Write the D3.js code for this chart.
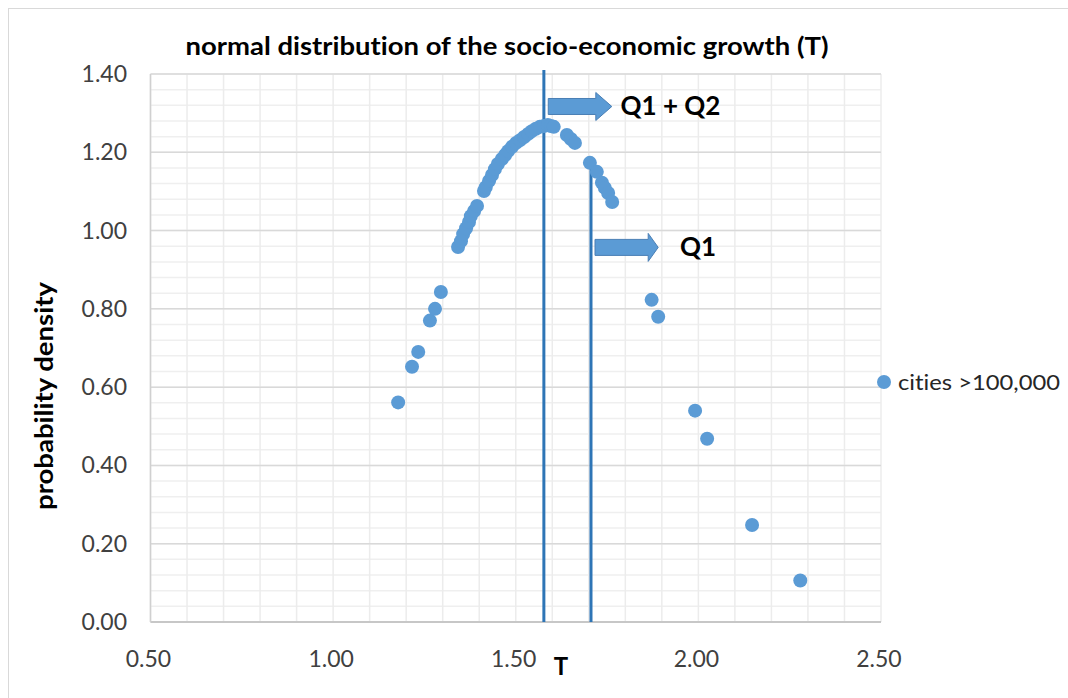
<!DOCTYPE html>
<html>
<head>
<meta charset="utf-8">
<script src="https://cdn.jsdelivr.net/npm/d3@7"></script>
<style>
    body { margin: 0; background: #fff; }
    text { font-family: Lato, "Open Sans", sans-serif; font-variant-ligatures: none; }
</style>
</head>
<body>
<svg class="scatter"></svg>
<script>
// values
var tValues = [
    1.178, 1.216, 1.233, 1.265, 1.279, 1.295,
    1.342, 1.350, 1.356, 1.364, 1.372, 1.377, 1.386, 1.394,
    1.413, 1.418, 1.427, 1.435, 1.443, 1.451, 1.462, 1.471, 1.479, 1.490,
    1.501, 1.512, 1.523, 1.534, 1.544, 1.555, 1.566, 1.577, 1.588, 1.596, 1.604,
    1.640, 1.651, 1.662,
    1.703, 1.722, 1.736, 1.744, 1.753, 1.764,
    1.872, 1.890, 1.991, 2.024, 2.147, 2.279
];
var densityValues = [
    0.561, 0.652, 0.690, 0.770, 0.800, 0.843,
    0.958, 0.973, 0.991, 1.006, 1.022, 1.037, 1.050, 1.063,
    1.101, 1.111, 1.127, 1.142, 1.157, 1.170, 1.183, 1.193, 1.203, 1.214,
    1.224, 1.231, 1.239, 1.247, 1.254, 1.260, 1.265, 1.267, 1.270, 1.267, 1.265,
    1.244, 1.234, 1.224,
    1.173, 1.150, 1.122, 1.109, 1.096, 1.073,
    0.823, 0.780, 0.540, 0.468, 0.248, 0.106
];

var xTicks = [0.5, 1.0, 1.5, 2.0, 2.5];
var yTicks = [0, 0.2, 0.4, 0.6, 0.8, 1.0, 1.2, 1.4];

// vertical marker lines: [T, top value]
var markerLines = [
    { t: 1.577, top: 1.41 },
    { t: 1.706, top: 1.163 }
];

// arrow annotations in data units
var arrows = [
    { label: "Q1 + Q2", x0: 1.589, x1: 1.763, y: 1.317, head: 16, textT: 1.787 },
    { label: "Q1", x0: 1.717, x1: 1.890, y: 0.957, head: 10, textT: 1.950 }
];

var seriesName = "cities >100,000";

var data = tValues.map(function (t, i) {
    return { t: t, p: densityValues[i] };
});

var svgWidth = 1068,
    svgHeight = 698;
var plot = { left: 150.5, right: 881, top: 74, bottom: 622 };

var svg = d3.select('.scatter')
    .attr('width', svgWidth)
    .attr('height', svgHeight);

// chart frame
svg.append('rect')
    .attr('x', 8.5)
    .attr('y', 8.5)
    .attr('width', 1080)
    .attr('height', 720)
    .attr('fill', '#fff')
    .attr('stroke', '#d9d9d9');

var x = d3.scaleLinear().domain([0.5, 2.5]).range([plot.left, plot.right]);
var y = d3.scaleLinear().domain([0, 1.4]).range([plot.bottom, plot.top]);

// minor gridlines
svg.append('g')
    .selectAll('line')
    .data(d3.range(0, 1.4001, 0.04))
    .enter()
    .append('line')
    .attr('x1', plot.left)
    .attr('x2', plot.right)
    .attr('y1', function (d) { return y(d); })
    .attr('y2', function (d) { return y(d); })
    .attr('stroke', '#efefef')
    .attr('stroke-width', 1.5);

svg.append('g')
    .selectAll('line')
    .data(d3.range(0.5, 2.5001, 0.1))
    .enter()
    .append('line')
    .attr('x1', function (d) { return x(d); })
    .attr('x2', function (d) { return x(d); })
    .attr('y1', plot.top)
    .attr('y2', plot.bottom)
    .attr('stroke', '#ececec')
    .attr('stroke-width', 1.5);

// major horizontal gridlines
svg.append('g')
    .selectAll('line')
    .data(yTicks)
    .enter()
    .append('line')
    .attr('x1', plot.left)
    .attr('x2', plot.right)
    .attr('y1', function (d) { return y(d); })
    .attr('y2', function (d) { return y(d); })
    .attr('stroke', '#d9d9d9')
    .attr('stroke-width', 1.5);

// axis lines
svg.append('line')
    .attr('x1', plot.left).attr('x2', plot.right)
    .attr('y1', plot.bottom).attr('y2', plot.bottom)
    .attr('stroke', '#bfbfbf')
    .attr('stroke-width', 1.5);
svg.append('line')
    .attr('x1', plot.left).attr('x2', plot.left)
    .attr('y1', plot.top).attr('y2', plot.bottom)
    .attr('stroke', '#d0d0d0')
    .attr('stroke-width', 1.5);

// tick labels
svg.append('g')
    .selectAll('text')
    .data(yTicks)
    .enter()
    .append('text')
    .attr('x', 127)
    .attr('y', function (d) { return y(d) + 8; })
    .attr('text-anchor', 'end')
    .attr('font-size', 23)
    .attr('fill', '#404040')
    .text(function (d) { return d.toFixed(2); });

svg.append('g')
    .selectAll('text')
    .data(xTicks)
    .enter()
    .append('text')
    .attr('x', function (d) { return x(d) - 2; })
    .attr('y', 667)
    .attr('text-anchor', 'middle')
    .attr('font-size', 23)
    .attr('fill', '#404040')
    .text(function (d) { return d.toFixed(2); });

// marker lines
svg.append('g')
    .selectAll('line')
    .data(markerLines)
    .enter()
    .append('line')
    .attr('x1', function (d) { return x(d.t); })
    .attr('x2', function (d) { return x(d.t); })
    .attr('y1', function (d) { return y(d.top); })
    .attr('y2', y(0))
    .attr('stroke', '#2e75b6')
    .attr('stroke-width', 3);

// points
svg.append('g')
    .selectAll('circle')
    .data(data)
    .enter()
    .append('circle')
    .attr('cx', function (d) { return x(d.t); })
    .attr('cy', function (d) { return y(d.p); })
    .attr('r', 7)
    .attr('fill', '#5b9bd5');

// arrows
var arrowG = svg.append('g')
    .selectAll('g')
    .data(arrows)
    .enter()
    .append('g');

arrowG.append('path')
    .attr('d', function (d) {
        var a = x(d.x0), b = x(d.x1), c = y(d.y), h = b - d.head;
        return 'M' + a + ',' + (c - 8) + 'L' + h + ',' + (c - 8) + 'L' + h + ',' + (c - 14) +
            'L' + b + ',' + c + 'L' + h + ',' + (c + 14) + 'L' + h + ',' + (c + 8) +
            'L' + a + ',' + (c + 8) + 'Z';
    })
    .attr('fill', '#5b9bd5')
    .attr('stroke', '#4a7fb5')
    .attr('stroke-width', 1);

arrowG.append('text')
    .attr('x', function (d) { return x(d.textT); })
    .attr('y', function (d) { return y(d.y) + 9; })
    .attr('font-size', 26)
    .attr('font-weight', 'bold')
    .attr('fill', '#000')
    .text(function (d) { return d.label; });

// legend
svg.append('circle')
    .attr('cx', 884)
    .attr('cy', 382)
    .attr('r', 7)
    .attr('fill', '#5b9bd5');
svg.append('text')
    .attr('x', 898)
    .attr('y', 390)
    .attr('font-size', 22)
    .attr('fill', '#262626')
    .attr('textLength', 162)
    .attr('lengthAdjust', 'spacingAndGlyphs')
    .text(seriesName);

// titles
svg.append('text')
    .attr('x', 507)
    .attr('y', 55)
    .attr('text-anchor', 'middle')
    .attr('font-size', 25)
    .attr('font-weight', 'bold')
    .attr('textLength', 643)
    .attr('lengthAdjust', 'spacingAndGlyphs')
    .text('normal distribution of the socio-economic growth (T)');

svg.append('text')
    .attr('transform', 'translate(53,396) rotate(-90)')
    .attr('text-anchor', 'middle')
    .attr('font-size', 24)
    .attr('font-weight', 'bold')
    .attr('textLength', 228)
    .attr('lengthAdjust', 'spacingAndGlyphs')
    .text('probability density');

svg.append('text')
    .attr('x', 561)
    .attr('y', 675)
    .attr('text-anchor', 'middle')
    .attr('font-size', 24)
    .attr('font-weight', 'bold')
    .text('T');
</script>
</body>
</html>
